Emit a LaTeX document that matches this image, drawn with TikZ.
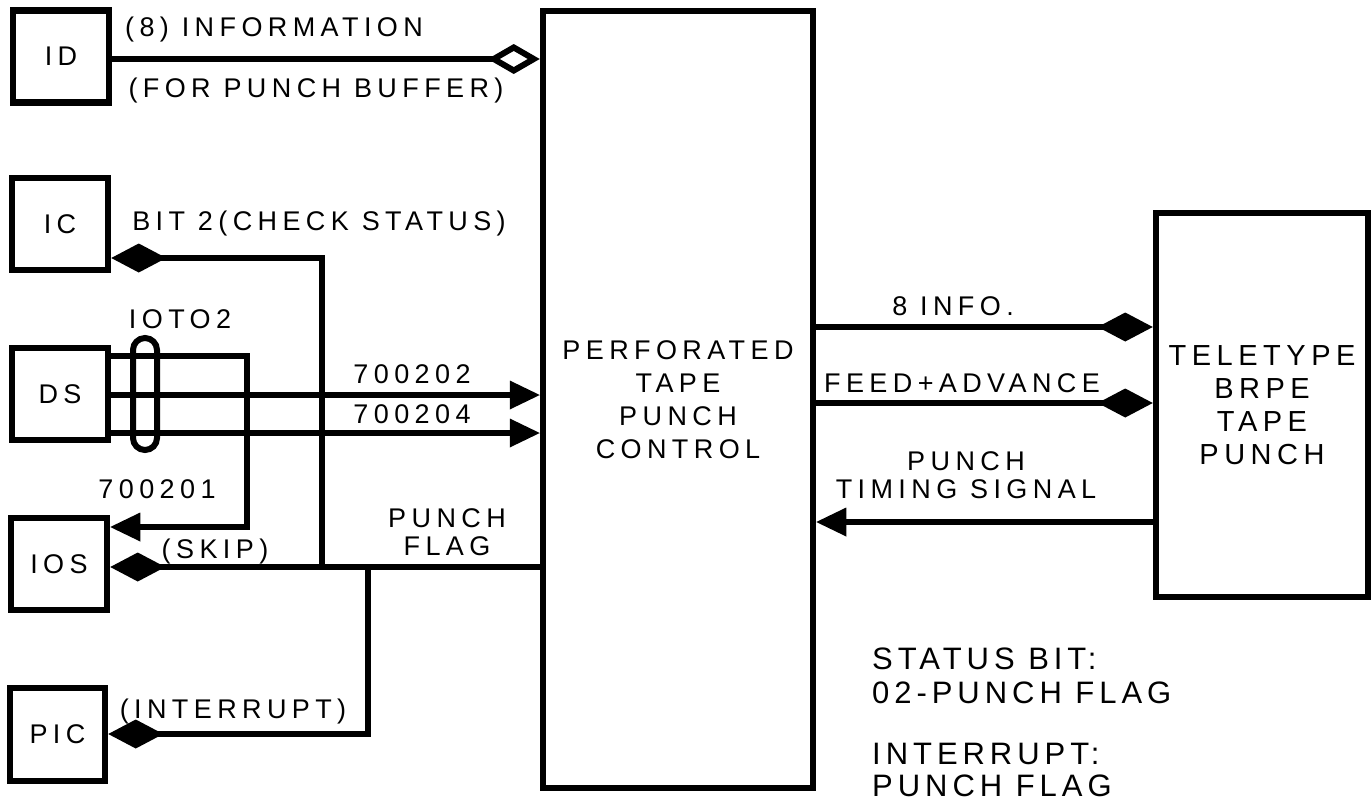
\documentclass[tikz,border=0pt]{standalone}
\usepackage{fontspec}
\setmainfont{Liberation Sans}[LetterSpace=20]
\usetikzlibrary{arrows.meta}
\begin{document}
\begin{tikzpicture}[x=1pt,y=-1pt,
  box/.style={draw, line width=6.5pt, minimum width=96pt, minimum height=92pt, inner sep=0pt, align=center, font=\fontsize{27}{33}\selectfont},
  wire/.style={line width=6pt},
  fd/.style={-{Diamond[length=55pt,width=29pt,line width=0pt]}},
  fds/.style={{Diamond[length=55pt,width=29pt,line width=0pt]}-},
  od/.style={-{Diamond[open,length=52pt,width=30pt]}},
  tri/.style={-{Triangle[length=30pt,width=29pt,line width=0pt]}},
  lbl/.style={inner sep=0pt, anchor=base, align=center, font=\fontsize{27}{27.5}\selectfont},
  note/.style={inner sep=0pt, anchor=base west, align=left, font=\fontsize{31}{34}\selectfont\addfontfeature{LetterSpace=16}}]
\useasboundingbox (0,0) rectangle (1372,803);
% boxes
\node[box] (ID) at (61,56.5) {ID};
\node[box] (IC) at (60,224) {IC};
\node[box] (DS) at (60,394) {DS};
\node[box] (IOS) at (59,564) {IOS};
\node[box, minimum width=95pt, minimum height=93pt] (PIC) at (57.5,734.5) {PIC};
\node[box, minimum width=270pt, minimum height=777pt] (big) at (678,399.5) {PERFORATED\\TAPE\\PUNCH\\CONTROL};
\node[box, minimum width=212pt, minimum height=384pt, font=\fontsize{29}{33}\selectfont\addfontfeature{LetterSpace=19}] (TT) at (1262,405) {TELETYPE\\BRPE\\TAPE\\PUNCH};
\node[draw, line width=6pt, minimum width=24pt, minimum height=112pt, inner sep=0pt, rounded corners=12pt] (oval) at (145,394) {};
% coordinates
\coordinate (rID) at (0,59);
\coordinate (j1) at (322,567);
\coordinate (cIC) at (322,258);
\coordinate (j2) at (368,567);
\coordinate (cPIC) at (368,734);
\coordinate (c1) at (247,356);
\coordinate (c2) at (247,527);
\coordinate (r395) at (0,395);
\coordinate (r433) at (0,433);
\coordinate (r327) at (0,327);
\coordinate (r403) at (0,403);
\coordinate (r522) at (0,522);
% connectors
\draw[wire, od] (ID.east |- rID) -- (big.west |- rID);
\draw[wire, fd] (j1) -- (cIC) -- (IC.east |- cIC);
\draw[wire, tri] (DS.east |- c1) -- (c1) -- (c2) -- (IOS.east |- c2);
\draw[wire, tri] (DS.east |- r395) -- (big.west |- r395);
\draw[wire, tri] (DS.east |- r433) -- (big.west |- r433);
\draw[wire, fds] (IOS.east |- j1) -- (big.west |- j1);
\draw[wire, fd] (j2) -- (cPIC) -- (PIC.east |- cPIC);
\draw[wire, fd] (big.east |- r327) -- (TT.west |- r327);
\draw[wire, fd] (big.east |- r403) -- (TT.west |- r403);
\draw[wire, tri] (TT.west |- r522) -- (big.east |- r522);
% labels
\node[lbl] (l1) at (274,36) {(8) INFORMATION};
\node[lbl] (l2) at (316,97) {(FOR PUNCH BUFFER)};
\node[lbl] (l3) at (319,230) {BIT 2(CHECK STATUS)};
\node[lbl] (l4) at (180,328) {IOTO2};
\node[lbl] (l5) at (412,383) {700202};
\node[lbl] (l6) at (412,423) {700204};
\node[lbl] (l7) at (157,498) {700201};
\node[lbl] (l8) at (215,558) {(SKIP)};
\node[lbl] (l9) at (447,555) {PUNCH\\FLAG};
\node[lbl] (l10) at (233,718) {(INTERRUPT)};
\node[lbl] (l11) at (953,315) {8 INFO.};
\node[lbl] (l12) at (962,392) {FEED+ADVANCE};
\node[lbl, font=\fontsize{27}{28}\selectfont] (l13) at (966,498) {PUNCH\\TIMING SIGNAL};
\node[note] (n1) at (872,703) {STATUS BIT:\\02-PUNCH FLAG};
\node[note, font=\fontsize{31}{32}\selectfont\addfontfeature{LetterSpace=16}] (n2) at (872,796) {INTERRUPT:\\PUNCH FLAG};
\end{tikzpicture}
\end{document}
